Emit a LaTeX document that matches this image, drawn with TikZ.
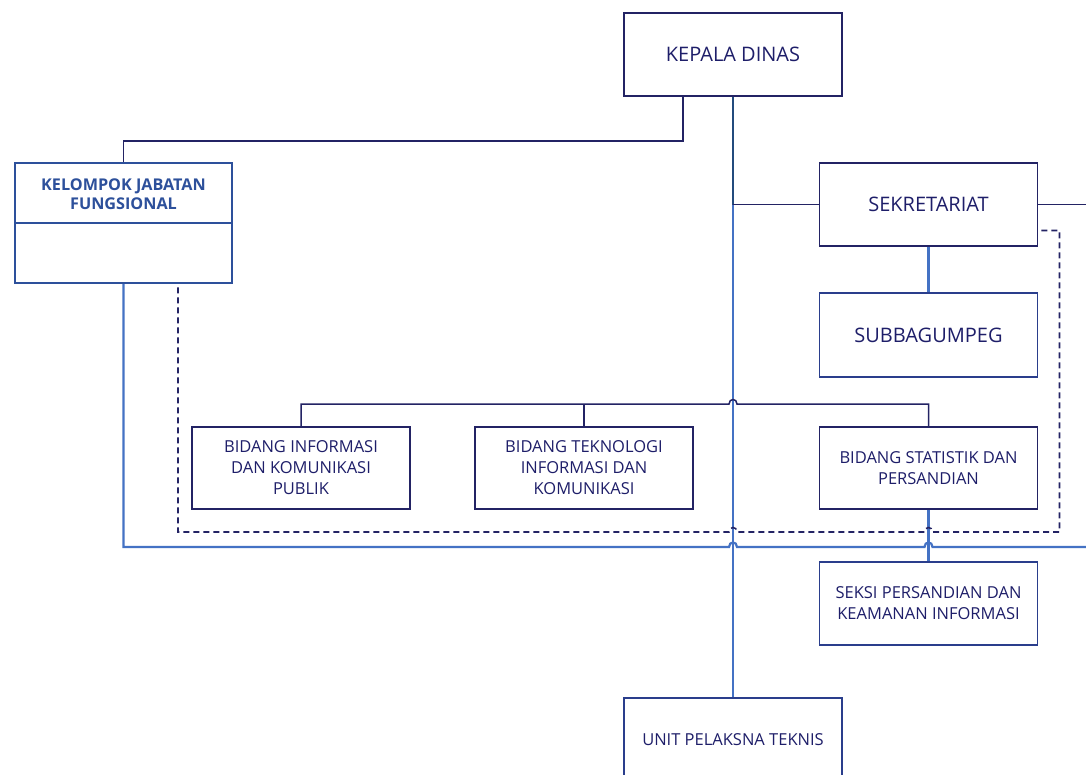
\documentclass[tikz,border=0pt]{standalone}
\usepackage{fontspec}
\setmainfont{Open Sans}
\definecolor{navyb}{RGB}{35,35,100}
\definecolor{navyt}{RGB}{30,30,105}
\definecolor{boxb}{RGB}{42,62,140}
\definecolor{kjfc}{RGB}{45,80,155}
\definecolor{bluel}{RGB}{68,114,196}
\definecolor{tealc}{RGB}{35,75,125}
\tikzset{
  x=1pt, y=-1pt,
  orgbox/.style={draw=navyb, line width=1.6pt, rectangle, minimum width=218pt, minimum height=83pt, inner sep=2pt, align=center, text=navyt},
  bigtxt/.style={font=\fontsize{20}{24}\selectfont},
  smalltxt/.style={font=\fontsize{16.5}{21}\selectfont},
  navyline/.style={draw=navyb, line width=1.5pt},
  blueline/.style={draw=bluel, line width=2.2pt},
  dashline/.style={draw=navyb, line width=1.6pt, dash pattern=on 6pt off 4pt},
}
\begin{document}
\begin{tikzpicture}
\useasboundingbox (0,0) rectangle (1086,774);
\fill[white] (0,0) rectangle (1086,774);
\clip (0,0) rectangle (1086,774);
% nodes
\node[orgbox, bigtxt] (kd) at (733,54.5) {KEPALA DINAS};
\node[orgbox, bigtxt] (sek) at (928.5,204.5) {SEKRETARIAT};
\node[orgbox, bigtxt, draw=boxb, minimum height=84pt] (sub) at (928.5,335) {SUBBAGUMPEG};
\node[draw=kjfc, line width=2pt, rectangle, minimum width=217pt, minimum height=120pt] (kjf) at (123.5,223) {};
\node[text=kjfc, font=\fontsize{16.2}{19.5}\selectfont\bfseries, align=center] (kjft) at (123.5,194) {KELOMPOK JABATAN\\FUNGSIONAL};
\node[orgbox, smalltxt, minimum height=82pt] (bi) at (301,468) {BIDANG INFORMASI\\DAN KOMUNIKASI\\PUBLIK};
\node[orgbox, smalltxt, minimum height=82pt] (bt) at (584,468) {BIDANG TEKNOLOGI\\INFORMASI DAN\\KOMUNIKASI};
\node[orgbox, smalltxt, minimum height=82pt] (bs) at (928.5,468) {BIDANG STATISTIK DAN\\PERSANDIAN};
\node[orgbox, smalltxt, draw=boxb] (sk) at (928.5,603.5) {SEKSI PERSANDIAN DAN\\KEAMANAN INFORMASI};
\node[orgbox, smalltxt, draw=boxb, text depth=0pt] (upt) at (733,739.5) {UNIT PELAKSNA TEKNIS};
\coordinate (edgeR) at (1092,0);
% KJF divider
\draw[draw=kjfc, line width=2pt] (kjf.west) -- (kjf.east);
% trunk
\draw[blueline] (kd.south) -- (upt.north);
\draw[draw=tealc, line width=2pt] (kd.south) -- (733,204.5);
% kepala -> kjf
\draw[navyline] (kd.south) ++(-50,0) -- ++(0,44) -| (kjf.north);
% sekretariat
\draw[navyline] (sek.west) -- (733,204.5);
\draw[navyline] (sek.east) -- (sek.east -| edgeR);
\draw[blueline] (sek.south) -- (sub.north);
% bus to bidang
\draw[navyline] (bi.north) -- (301,404) -- (729,404) .. controls (729,398) and (737,398) .. (737,404) -- (928.5,404) -- (bs.north);
\draw[navyline] (bt.north) -- (584,404);
% bidang statistik -> seksi
\draw[blueline] (bs.south) -- (sk.north);
% dashed coordination line
\draw[dashline] (sek.east) ++(3,26) -- (1059.5,230.5) -- (1059.5,532)
  -- (932.5,532) .. controls (932.5,526) and (924.5,526) .. (924.5,532)
  -- (737,532) .. controls (737,526) and (729,526) .. (729,532)
  -- (178,532) -- (178,283.5);
% solid bottom line
\draw[blueline] (kjf.south) -- (123.5,547) -- (729,547) .. controls (729,541) and (737,541) .. (737,547)
  -- (924.5,547) .. controls (924.5,541) and (932.5,541) .. (932.5,547) -- (1092,547);
\end{tikzpicture}
\end{document}
